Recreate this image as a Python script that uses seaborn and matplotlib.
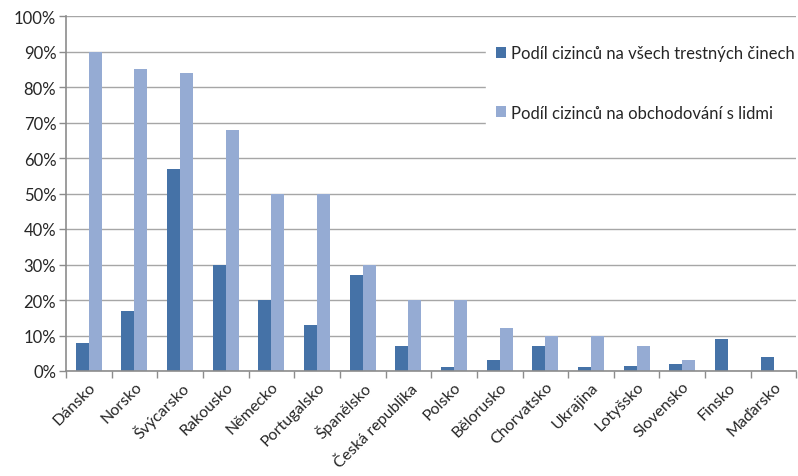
import matplotlib
matplotlib.use("Agg")
import matplotlib.pyplot as plt
import matplotlib.ticker as mticker
import numpy as np
import pandas as pd
import seaborn as sns

countries = ["Dánsko", "Norsko", "Švýcarsko", "Rakousko", "Německo", "Portugalsko",
             "Španělsko", "Česká republika", "Polsko", "Bělorusko", "Chorvatsko",
             "Ukrajina", "Lotyšsko", "Slovensko", "Finsko", "Maďarsko"]
crime_share = [8, 17, 57, 30, 20, 13, 27, 7, 1, 3, 7, 1, 1.5, 2, 9, 4]
trafficking_share = [90, 85, 84, 68, 50, 50, 30, 20, 20, 12, 10, 10, 7, 3, 0, 0]
series_names = ["Podíl cizinců na všech trestných činech",
                "Podíl cizinců na obchodování s lidmi"]
colors = ["#4572A7", "#95ABD3"]

df = pd.DataFrame({
    "country": countries * 2,
    "value": crime_share + trafficking_share,
    "series": [series_names[0]] * len(countries) + [series_names[1]] * len(countries),
})

sns.set_style("white")
plt.rcParams["font.family"] = ["Lato", "DejaVu Sans"]

fig = plt.figure(figsize=(7.98, 4.77), dpi=100)
ax = fig.add_axes([66 / 798, 1 - 372 / 477, 1 - 66 / 798 - 0.002, (372 - 17) / 477])

sns.barplot(data=df, x="country", y="value", hue="series", palette=colors,
            width=0.57, saturation=1, linewidth=0, ax=ax)

ax.set_ylim(0, 100)
ax.set_xlim(-0.5, len(countries) - 0.5)
ax.yaxis.set_major_locator(mticker.MultipleLocator(10))
ax.yaxis.set_major_formatter(mticker.FuncFormatter(lambda v, _: f"{v:.0f}%"))
ax.grid(axis="y", color="#A6A6A6", linewidth=1)
ax.set_axisbelow(True)
ax.set_xlabel("")
ax.set_ylabel("")

for side in ["top", "right"]:
    ax.spines[side].set_visible(False)
for side in ["left", "bottom"]:
    ax.spines[side].set_color("#8C8C8C")
    ax.spines[side].set_linewidth(1.2)

ax.set_xticks(np.arange(-0.5, len(countries)), minor=True)
ax.tick_params(axis="x", which="major", length=0, labelsize=11.5, pad=6)
ax.tick_params(axis="x", which="minor", length=5, color="#8C8C8C", width=1)
ax.tick_params(axis="y", length=5, color="#8C8C8C", width=1, labelsize=12, pad=2)
ax.yaxis.set_ticks_position("left")
ax.xaxis.set_ticks_position("bottom")
plt.setp(ax.get_xticklabels(), rotation=45, ha="right", rotation_mode="anchor")

handles, labels = ax.get_legend_handles_labels()
leg = ax.legend(handles, labels, loc="upper right", bbox_to_anchor=(1.016, 0.955),
                frameon=True, fancybox=False, facecolor="white", edgecolor="white",
                framealpha=1, fontsize=12, handlelength=0.6, handleheight=0.6,
                handletextpad=0.3, labelspacing=2.6, borderpad=0.6, borderaxespad=0.2)

fig.savefig("out.png", dpi=100)
